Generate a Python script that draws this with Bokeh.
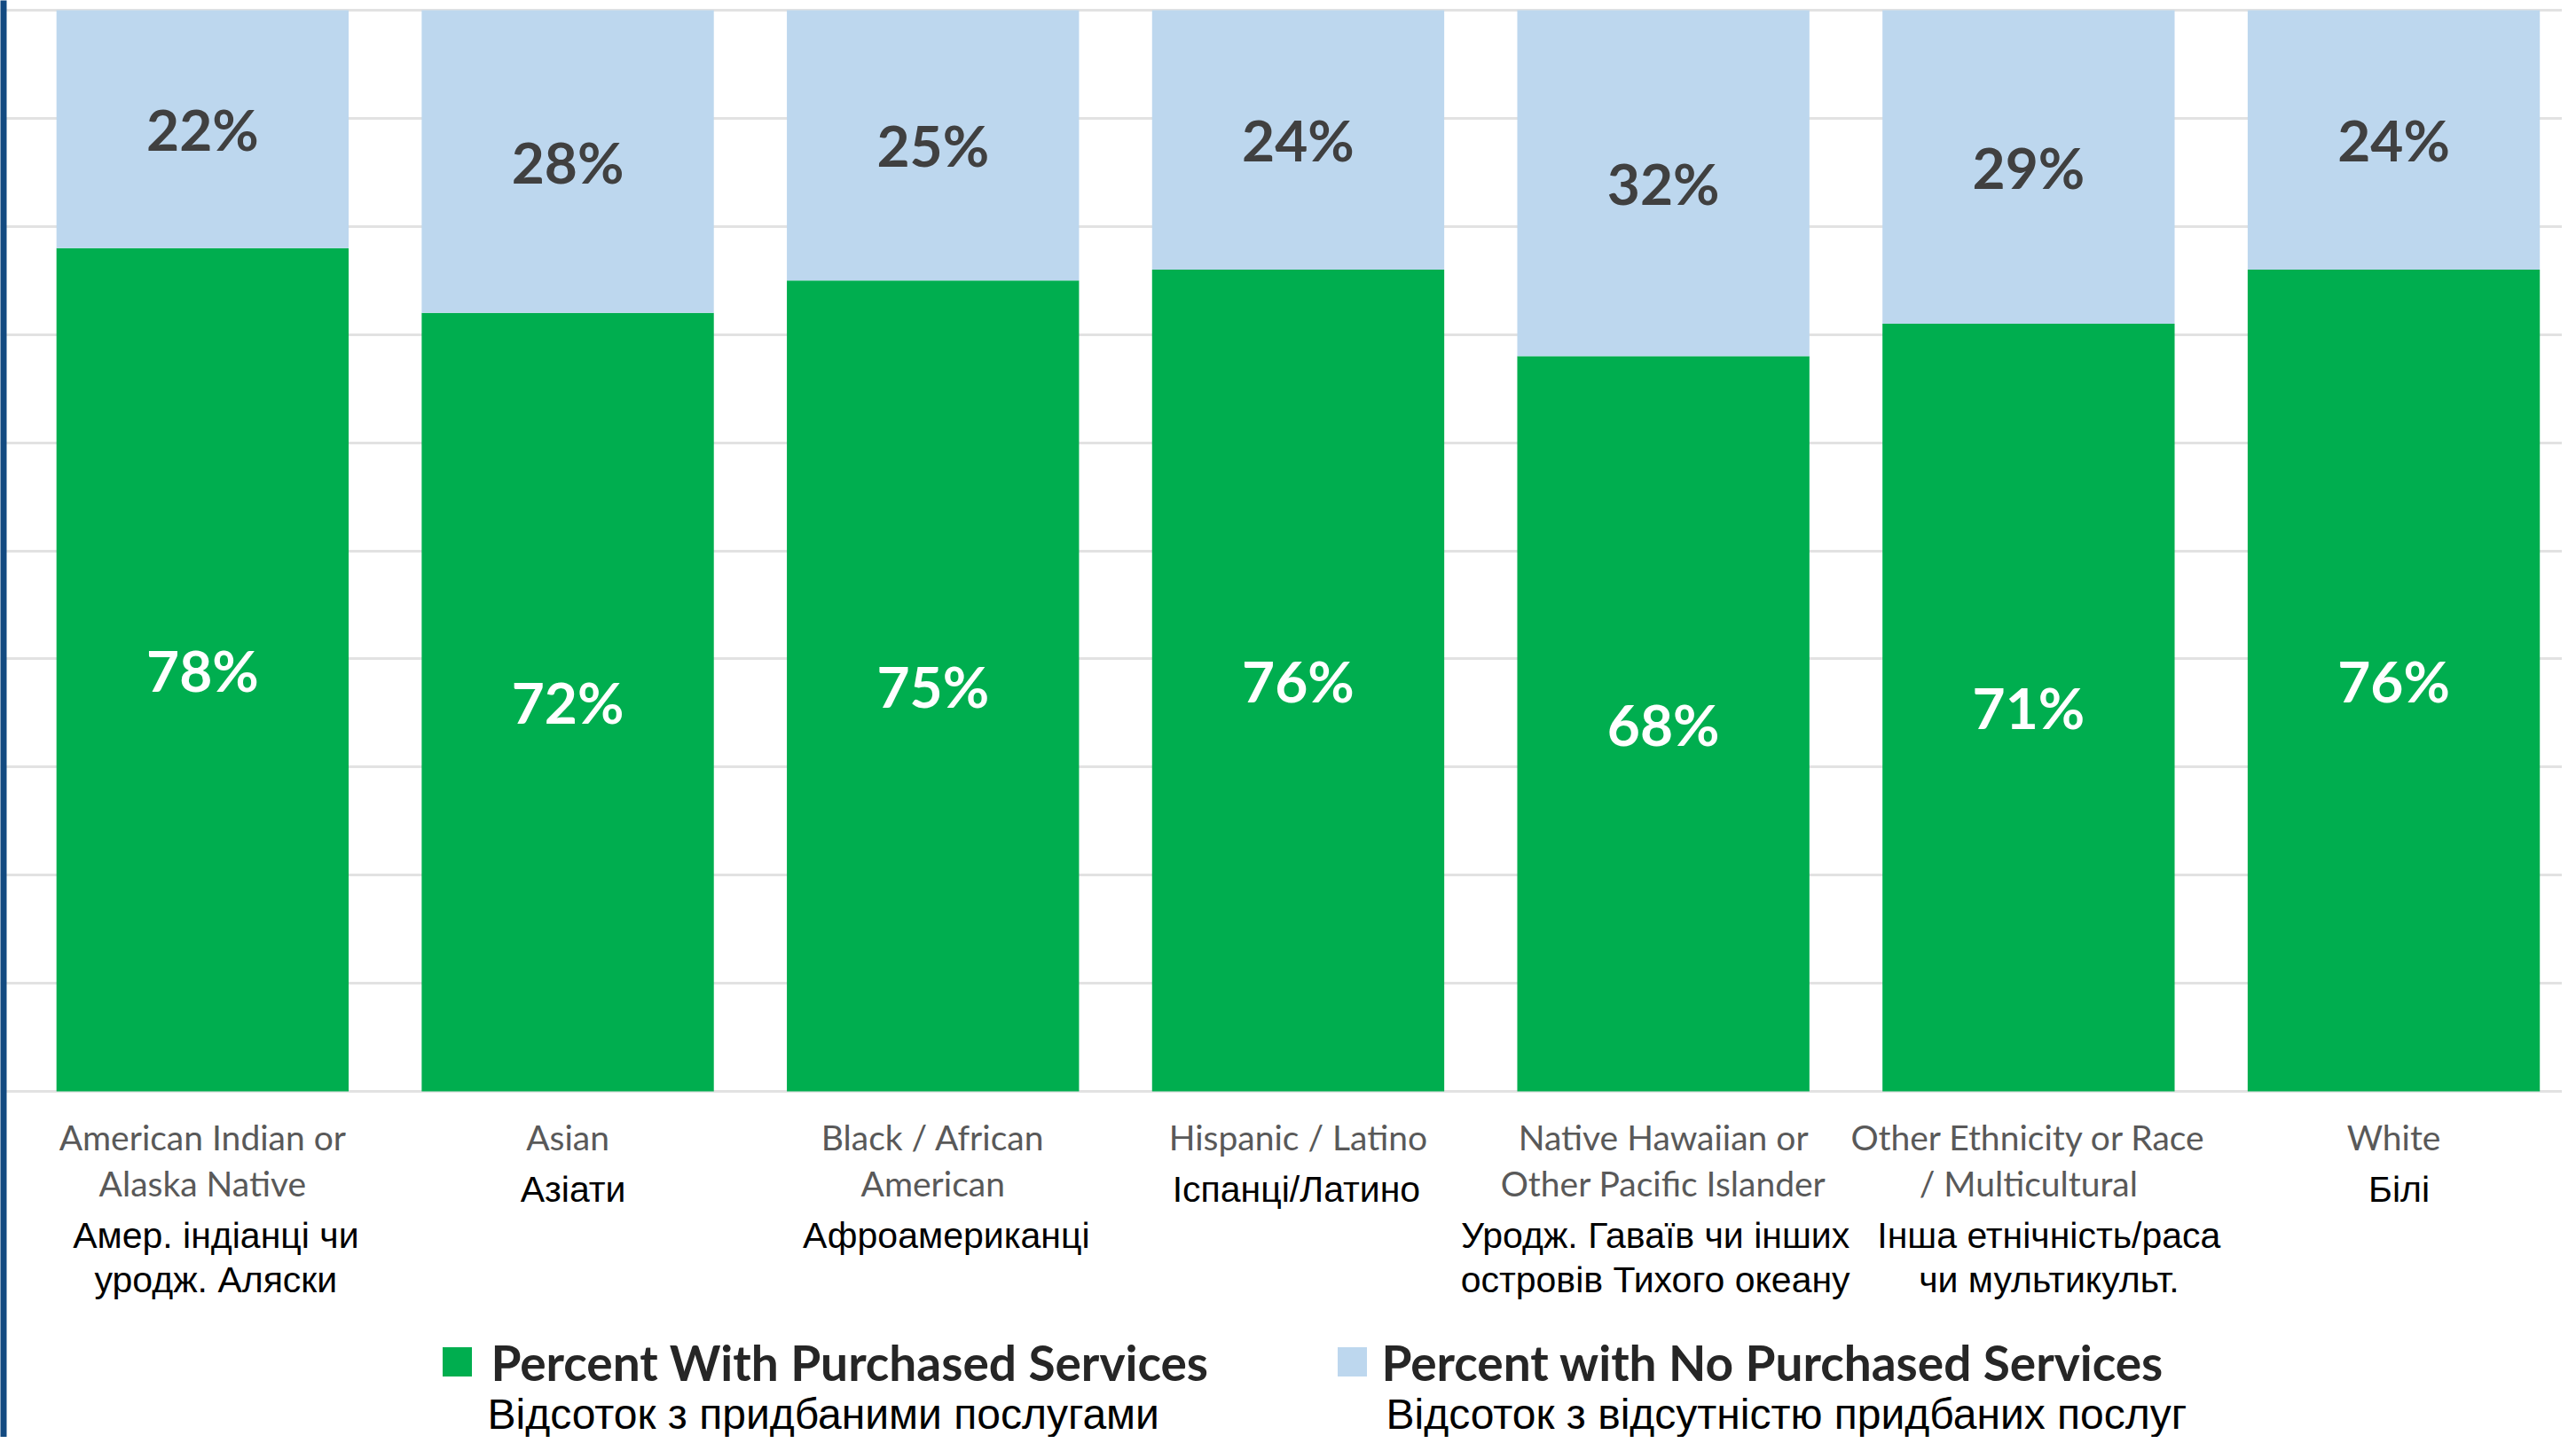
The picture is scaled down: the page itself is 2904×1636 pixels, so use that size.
from bokeh.plotting import figure
from bokeh.models import ColumnDataSource, FixedTicker, Grid
from bokeh.core.properties import value
from bokeh.embed import file_html
from bokeh.resources import INLINE

# ---------------- data ----------------
categories_en = [
    "American Indian or\nAlaska Native",
    "Asian",
    "Black / African\nAmerican",
    "Hispanic / Latino",
    "Native Hawaiian or\nOther Pacific Islander",
    "Other Ethnicity or Race\n/ Multicultural",
    "White",
]
categories_uk = [
    "Амер. індіанці чи\nуродж. Аляски",
    "Азіати",
    "Афроамериканці",
    "Іспанці/Латино",
    "Уродж. Гаваїв чи інших\nостровів Тихого океану",
    "Інша етнічність/раса\nчи мультикульт.",
    "Білі",
]
with_purchased = [78, 72, 75, 76, 68, 71, 76]
no_purchased = [22, 28, 25, 24, 32, 29, 24]
series_en = ["Percent With Purchased Services", "Percent with No Purchased Services"]
series_uk = ["Відсоток з придбаними послугами", "Відсоток з відсутністю придбаних послуг"]
y_ticks = list(range(0, 101, 10))

# ---------------- layout (pixels) ----------------
FIG_W, FIG_H = 2888, 1620
X0 = 22.0          # pixel x where the category axis starts
CAT_W = 411.7      # pixels per category
Y0 = 1230.0        # pixel y of value 0
PX_PER = 12.19     # pixels per percent
UK_NUDGE = [15, 6, 15, -2, -9, 23, 6]   # small horizontal shifts of the Ukrainian labels

GREEN = "#00ae4f"
BLUE = "#bdd7ee"
DARK_BLUE = "#134a81"


def dx(px):
    return (px - X0) / CAT_W - 0.5


def dy(py):
    return (Y0 - py) / PX_PER


p = figure(
    width=FIG_W, height=FIG_H,
    x_range=(dx(0), dx(FIG_W)),
    y_range=(dy(FIG_H), dy(0)),
    x_axis_type=None, y_axis_type=None,
    output_backend="svg", toolbar_location=None,
    min_border=0, min_border_left=0, min_border_right=0,
    min_border_top=0, min_border_bottom=0,
)
p.outline_line_color = None
p.background_fill_color = "white"
p.border_fill_color = "white"

p.add_layout(Grid(dimension=1, ticker=FixedTicker(ticks=y_ticks),
                  grid_line_color="#e2e2e2", grid_line_width=3))

n = len(categories_en)
xs = list(range(n))
totals = [a + b for a, b in zip(with_purchased, no_purchased)]
src = ColumnDataSource(dict(
    x=xs, w=with_purchased, nw=no_purchased, total=totals,
    w_mid=[v / 2 for v in with_purchased],
    nw_mid=[a + b / 2 for a, b in zip(with_purchased, no_purchased)],
    w_lab=[f"{v}%" for v in with_purchased],
    nw_lab=[f"{v}%" for v in no_purchased],
))

p.vbar(x="x", width=0.8, bottom=0, top="w", source=src,
       fill_color=GREEN, line_color=None)
p.vbar(x="x", width=0.8, bottom="w", top="total", source=src,
       fill_color=BLUE, line_color=None)

p.text(x="x", y="w_mid", text="w_lab", source=src,
       text_font=value("Lato"), text_font_style="bold", text_font_size="64px",
       text_color="white", text_align="center", text_baseline="middle")
p.text(x="x", y="nw_mid", text="nw_lab", source=src,
       text_font=value("Lato"), text_font_style="bold", text_font_size="64px",
       text_color="#404040", text_align="center", text_baseline="middle")

# category labels (English grey, Ukrainian black)
EN_FIRST = 1281
en_x, en_y, en_t, uk_x, uk_y, uk_t = [], [], [], [], [], []
for i in range(n):
    en_lines = categories_en[i].split("\n")
    for j, line in enumerate(en_lines):
        en_x.append(i)
        en_y.append(dy(EN_FIRST + 52 * j))
        en_t.append(line)
    base = EN_FIRST + 52 * len(en_lines) + 7
    for j, line in enumerate(categories_uk[i].split("\n")):
        uk_x.append(i + UK_NUDGE[i] / CAT_W)
        uk_y.append(dy(base + 50 * j))
        uk_t.append(line)

p.text(x=en_x, y=en_y, text=en_t, text_font=value("Lato"), text_font_size="39px",
       text_color="#595959", text_align="center", text_baseline="alphabetic")
p.text(x=uk_x, y=uk_y, text=uk_t, text_font=value("Liberation Sans"),
       text_font_size="41px", text_color="#000000", text_align="center",
       text_baseline="alphabetic")

# left blue stripe
p.quad(left=[dx(0) - 1], right=[dx(7)], bottom=[dy(2000)], top=[dy(-100)],
       fill_color=DARK_BLUE, line_color=None)

# legend
sq_x = [dx(515), dx(1524)]
p.rect(x=sq_x, y=[dy(1535)] * 2, width=33, height=33,
       width_units="screen", height_units="screen",
       fill_color=[GREEN, BLUE], line_color=None)
p.text(x=[dx(553), dx(1557)], y=[dy(1535)] * 2, text=series_en,
       text_font=value("Lato"), text_font_style="bold", text_font_size="55px",
       text_color="#262626", text_align="left", text_baseline="alphabetic")
p.text(x=[dx(549), dx(1562)], y=[dy(1594)] * 2, text=series_uk,
       text_font=value("Liberation Sans"), text_font_size="48px",
       text_color="#000000", text_align="left", text_baseline="alphabetic")

open("out.html", "w").write(file_html(p, INLINE))
